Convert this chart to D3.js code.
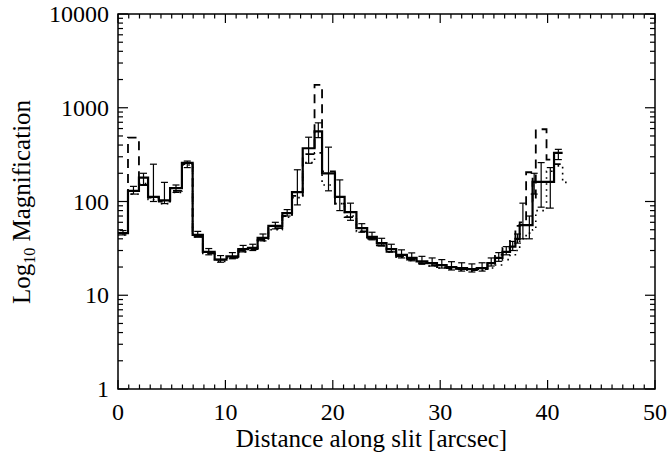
<!DOCTYPE html>
<html>
<head>
<meta charset="utf-8">
<script src="https://cdn.jsdelivr.net/npm/d3@7"></script>
<style>
  body { margin: 0; background: #fff; }
  text { font-family: "Liberation Serif", "DejaVu Serif", serif; fill: #000; }
</style>
</head>
<body>
<div id="chart"></div>
<script>
// magnification along the slit, three models as histograms

// bin edges along the slit [arcsec]
var binEdges = [0, 0.93, 1.95, 2.8, 3.8, 4.85, 5.95, 6.95, 7.9, 9.0, 10.1, 11.2, 12.1, 13.0, 14.0,
  15.3, 16.2, 17.2, 18.3, 19.0, 20.2, 21.1, 22.2, 23.2, 24.1, 25.0, 25.9, 26.9, 27.8, 28.8,
  29.7, 30.6, 31.5, 32.5, 33.4, 34.4, 35.1, 35.8, 36.5, 37.0, 37.4, 38.0, 38.6, 38.9, 39.9,
  40.6, 41.4, 42.0];

// solid model (with error bars)
var solidVals = [46, 130, 180, 112, 103, 139, 258, 44, 29, 24, 26, 31, 32, 41, 55,
  75, 126, 370, 560, 200, 112, 77, 52, 42, 36, 31, 27, 25, 23, 22,
  21, 20, 19.5, 19, 19.5, 22, 25, 29, 33, 40, 56, 56, 162, 162, 162,
  330, null];
var solidLo = [44, 120, 150, 100, 95, 125, 230, 42, 27, 22.5, 24.5, 29, 30, 38, 51,
  70, 92, 256, 480, 130, 80, 63, 47, 39, 33.5, 29, 25, 23.3, 21.4, 20.5,
  19.5, 18.6, 18.1, 17.7, 18.1, 20.5, 23, 27, 30, 36, 40, 40, 120, 87, 85,
  280, null];
var solidHi = [49, 145, 200, 250, 160, 150, 270, 48, 31.5, 26.5, 28.5, 34, 35, 45, 60,
  82, 218, 485, 690, 380, 170, 96, 58, 47, 40.5, 35, 30.5, 28.3, 26, 25,
  24, 22.8, 22.2, 21.6, 22.2, 25, 28.5, 33, 37.5, 45, 96, 70, 200, 260, 230,
  360, null];

// dashed model
var dashedVals = [46, 480, 150, 110, 100, 130, 250, 42, 28, 24, 25, 30, 31, 39, 52,
  70, 115, 320, 1750, 210, 95, 68, 48, 40, 34, 29, 26, 24, 22, 21,
  20, 19.5, 19, 18.5, 19, 22, 27, 32, 38, 55, 60, 205, 100, 590, 280,
  250, null];

// dotted model
var dottedVals = [44, 120, 155, 105, 95, 125, 245, 42, 28, 23, 25, 29, 31, 38, 50,
  68, 110, 260, 330, 150, 95, 70, 48, 40, 34, 29, 25.5, 23.5, 22, 20.5,
  19.5, 19, 18.5, 18, 18.5, 19.5, 21, 24, 27, 30, 40, 46, 50, 80, 210,
  240, 160];

var xTickVals = [0, 10, 20, 30, 40, 50];
var yTickVals = [1, 10, 100, 1000, 10000];

var chartWidth = 670;
var chartHeight = 461;
var plotLeft = 118, plotRight = 655, plotTop = 14, plotBottom = 389;

var svg = d3.select("#chart").append("svg")
  .attr("width", chartWidth).attr("height", chartHeight);

svg.append("rect").attr("width", "100%").attr("height", "100%").attr("fill", "#fff");

var xScale = d3.scaleLinear().domain([0, 50]).range([plotLeft, plotRight]);
var yScale = d3.scaleLog().domain([1, 10000]).range([plotBottom, plotTop]);

// step path from bins
function stepPoints(vals) {
  var pts = [];
  for (var i = 0; i < vals.length; i++) {
    pts.push([binEdges[i], vals[i]]);
    pts.push([binEdges[i + 1], vals[i]]);
  }
  return pts;
}

var stepLine = d3.line()
  .defined(function(d) { return d[1] != null; })
  .x(function(d) { return xScale(d[0]); })
  .y(function(d) { return yScale(d[1]); });

var plot = svg.append("g");

plot.append("path")
  .attr("d", stepLine(stepPoints(dottedVals)))
  .attr("fill", "none").attr("stroke", "#000").attr("stroke-width", 1.6)
  .attr("stroke-dasharray", "1.6,4.4");

plot.append("path")
  .attr("d", stepLine(stepPoints(dashedVals)))
  .attr("fill", "none").attr("stroke", "#000").attr("stroke-width", 1.8)
  .attr("stroke-dasharray", "9,6");

plot.append("path")
  .attr("d", stepLine(stepPoints(solidVals)))
  .attr("fill", "none").attr("stroke", "#000").attr("stroke-width", 2.2)
  .attr("stroke-linejoin", "miter");

// error bars on solid
var errs = [];
for (var i = 0; i < solidVals.length; i++) {
  if (solidVals[i] == null) continue;
  errs.push({ x: (binEdges[i] + binEdges[i + 1]) / 2, lo: solidLo[i], hi: solidHi[i] });
}
var eb = plot.selectAll(".eb").data(errs).enter().append("g").attr("class", "eb");
eb.append("line")
  .attr("x1", function(d) { return xScale(d.x); }).attr("x2", function(d) { return xScale(d.x); })
  .attr("y1", function(d) { return yScale(d.lo); }).attr("y2", function(d) { return yScale(d.hi); })
  .attr("stroke", "#000").attr("stroke-width", 1.2);
["lo", "hi"].forEach(function(k) {
  eb.append("line")
    .attr("x1", function(d) { return xScale(d.x) - 3.5; }).attr("x2", function(d) { return xScale(d.x) + 3.5; })
    .attr("y1", function(d) { return yScale(d[k]); }).attr("y2", function(d) { return yScale(d[k]); })
    .attr("stroke", "#000").attr("stroke-width", 1.2);
});

// frame
svg.append("rect")
  .attr("x", plotLeft).attr("y", plotTop).attr("width", plotRight - plotLeft).attr("height", plotBottom - plotTop)
  .attr("fill", "none").attr("stroke", "#000").attr("stroke-width", 1.5);

// x ticks (bottom + top)
var xMinor = d3.range(0, 51, 1);
xMinor.forEach(function(v) {
  var major = v % 10 === 0;
  var len = major ? 9 : 4.5;
  svg.append("line").attr("x1", xScale(v)).attr("x2", xScale(v))
    .attr("y1", plotBottom).attr("y2", plotBottom - len).attr("stroke", "#000").attr("stroke-width", 1.2);
  svg.append("line").attr("x1", xScale(v)).attr("x2", xScale(v))
    .attr("y1", plotTop).attr("y2", plotTop + len).attr("stroke", "#000").attr("stroke-width", 1.2);
});

// y ticks (left + right)
yTickVals.forEach(function(v, idx) {
  var vals = [v];
  if (idx < yTickVals.length - 1) for (var m = 2; m < 10; m++) vals.push(v * m);
  vals.forEach(function(t, j) {
    var len = j === 0 ? 10 : 5;
    svg.append("line").attr("x1", plotLeft).attr("x2", plotLeft + len)
      .attr("y1", yScale(t)).attr("y2", yScale(t)).attr("stroke", "#000").attr("stroke-width", 1.2);
    svg.append("line").attr("x1", plotRight).attr("x2", plotRight - len)
      .attr("y1", yScale(t)).attr("y2", yScale(t)).attr("stroke", "#000").attr("stroke-width", 1.2);
  });
});

// tick labels
svg.selectAll(".xl").data(xTickVals).enter().append("text")
  .attr("x", function(d) { return xScale(d); }).attr("y", 420)
  .attr("text-anchor", "middle").attr("font-size", 24)
  .text(function(d) { return d; });

svg.selectAll(".yl").data(yTickVals).enter().append("text")
  .attr("x", 109).attr("y", function(d) { return yScale(d) + 8; })
  .attr("text-anchor", "end").attr("font-size", 24)
  .text(function(d) { return d; });

// axis titles
svg.append("text")
  .attr("x", (plotLeft + plotRight) / 2 - 15).attr("y", 447)
  .attr("text-anchor", "middle").attr("font-size", 25)
  .text("Distance along slit [arcsec]");

var yt = svg.append("text")
  .attr("transform", "translate(30,202) rotate(-90)")
  .attr("text-anchor", "middle").attr("font-size", 25);
yt.append("tspan").text("Log");
yt.append("tspan").attr("font-size", 16).attr("dy", 5).text("10");
yt.append("tspan").attr("dy", -5).text(" Magnification");
</script>
</body>
</html>
